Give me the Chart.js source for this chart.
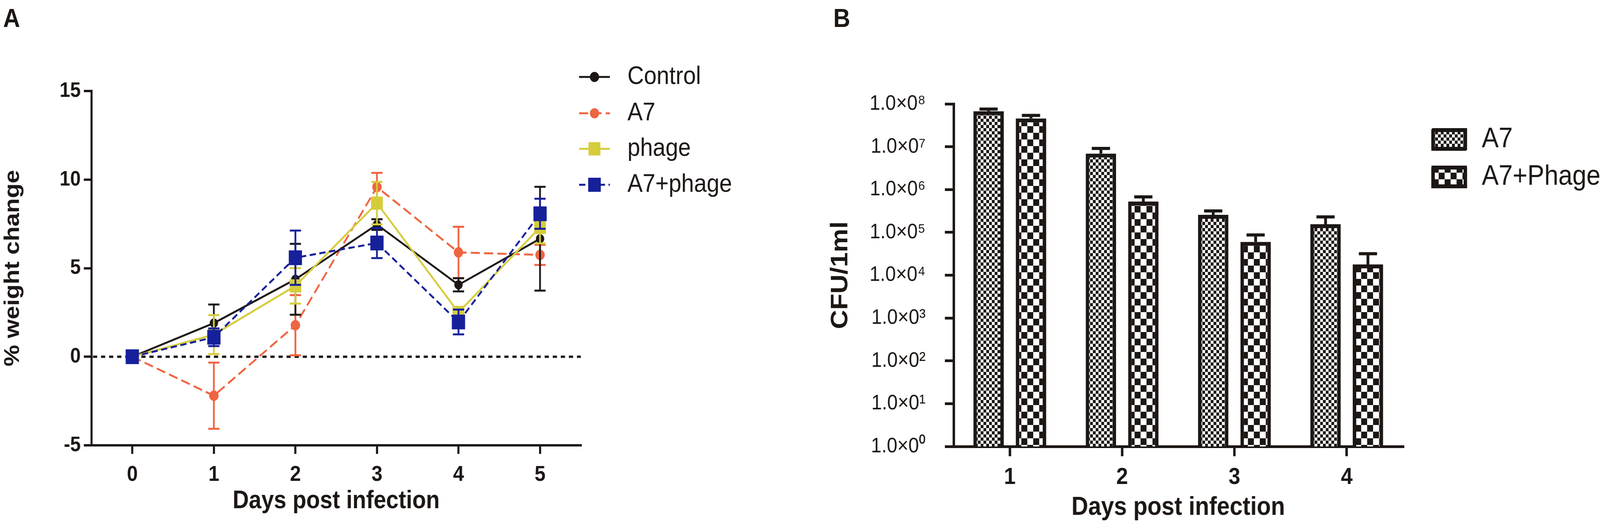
<!DOCTYPE html>
<html>
<head>
<meta charset="utf-8">
<script src="https://cdn.jsdelivr.net/npm/chart.js@4.4.1/dist/chart.umd.min.js"></script>
<style>
  html, body { margin: 0; padding: 0; background: #fff; overflow: hidden; }
  #page { position: relative; width: 4562px; height: 1344px; overflow: hidden; background: #fff; transform-origin: 0 0; }
  canvas { position: absolute; top: 0; }
  #chartA { left: 0; }
  #chartB { left: 2300px; }
  .panel { position: absolute; top: 12px; font: bold 67px 'Liberation Sans', Arial, sans-serif; line-height: 67px; color: #1c1714; }
</style>
</head>
<body>
<div id="page">
  <canvas id="chartA" width="2300" height="1344" style="width:2300px;height:1344px"></canvas>
  <canvas id="chartB" width="2262" height="1344" style="width:2262px;height:1344px"></canvas>
  <div class="panel" style="left:9px">A</div>
  <div class="panel" style="left:2376px">B</div>
</div>
<script>
// ---- panel A: % weight change (mean, SEM) ----
const days = ['0', '1', '2', '3', '4', '5'];
const controlMean = [0, 1.9, 4.37, 7.46, 4.06, 6.66];
const controlErr = [0, 1.05, 2.0, 0.3, 0.37, 2.93];
const a7Mean = [0, -2.2, 1.78, 9.58, 5.89, 5.75];
const a7Err = [0, 1.87, 1.7, 0.8, 1.45, 0.57];
const phageMean = [0, 1.25, 4.0, 8.67, 2.5, 7.3];
const phageErr = [0, 1.1, 1.0, 1.2, 0.3, 0.9];
const comboMean = [0, 1.1, 5.59, 6.42, 1.96, 8.07];
const comboErr = [0, 0.5, 1.53, 0.85, 0.7, 0.85];

// ---- panel B: CFU/1ml (mean, SEM) ----
const cfuDays = ['1', '2', '3', '4'];
const cfuA7 = [6.76e7, 6.9e6, 2.57e5, 1.55e5];
const cfuA7Sem = [0.83e7, 2.2e6, 0.6e5, 0.75e5];
const cfuCombo = [4.57e7, 5.25e5, 6.0e4, 1.78e4];
const cfuComboSem = [0.8e7, 1.5e5, 2.7e4, 1.4e4];
const cfuTicks = [1, 10, 100, 1e3, 1e4, 1e5, 1e6, 1e7, 1e8];
const sup = ['⁰', '¹', '²', '³', '⁴', '⁵', '⁶', '⁷', '⁸'];

const FONT = "'Liberation Sans', Arial, sans-serif";
const INK = '#1c1714';
const BLACK = '#1c1714';
const ORANGE = '#ef6441';
const YELLOW = '#d5cc3c';
const BLUE = '#16209a';

// the window is not always 4562 wide: stretch the 4562x1344 layout onto it
const sx = window.innerWidth / 4562;
const sy = window.innerHeight / 1344;
document.getElementById('page').style.transform = 'scale(' + sx + ',' + sy + ')';

Chart.defaults.font.family = FONT;
Chart.defaults.color = INK;

// error bars, drawn through the y scale of each dataset
const errorBars = {
  id: 'errorBars',
  beforeDatasetDraw(chart, args) {
    const ds = chart.data.datasets[args.index];
    if (!ds.errors) return;
    const ctx = chart.ctx;
    const yScale = chart.scales[args.meta.yAxisID];
    ctx.save();
    ctx.strokeStyle = ds.errorColor || ds.borderColor;
    ctx.lineWidth = ds.errorWidth || 5;
    args.meta.data.forEach((el, i) => {
      const err = ds.errors[i];
      if (!err) return;
      const v = ds.data[i];
      const top = yScale.getPixelForValue(v + err);
      const bottom = ds.upperOnly ? el.y : yScale.getPixelForValue(v - err);
      const half = ds.capHalf || 16;
      ctx.beginPath();
      ctx.moveTo(el.x, top);
      ctx.lineTo(el.x, bottom);
      ctx.moveTo(el.x - half, top);
      ctx.lineTo(el.x + half, top);
      if (!ds.upperOnly) {
        ctx.moveTo(el.x - half, bottom);
        ctx.lineTo(el.x + half, bottom);
      }
      ctx.stroke();
    });
    ctx.restore();
  }
};

const zeroLine = {
  id: 'zeroLine',
  beforeDatasetsDraw(chart) {
    const { ctx, chartArea } = chart;
    const y = chart.scales.y.getPixelForValue(0);
    ctx.save();
    ctx.setLineDash([12, 11]);
    ctx.lineWidth = 6;
    ctx.strokeStyle = INK;
    ctx.beginPath();
    ctx.moveTo(chartArea.left + 4, y);
    ctx.lineTo(chartArea.right, y);
    ctx.stroke();
    ctx.restore();
  }
};

const lineLegend = {
  id: 'lineLegend',
  afterDraw(chart) {
    const ctx = chart.ctx;
    const rows = [197, 290, 381, 473];
    chart.data.datasets.forEach((ds, i) => {
      const y = rows[i];
      ctx.save();
      ctx.strokeStyle = ds.borderColor;
      ctx.lineWidth = ds.borderWidth;
      ctx.setLineDash(ds.borderDash || []);
      ctx.beginPath();
      ctx.moveTo(1651, y);
      ctx.lineTo(1739, y);
      ctx.stroke();
      ctx.setLineDash([]);
      ctx.fillStyle = ds.borderColor;
      ctx.beginPath();
      const s = ds.legendMarker;
      if (ds.pointStyle === 'rect') ctx.rect(1695 - s / 2, y - s / 2, s, s);
      else ctx.arc(1695, y, s / 2, 0, Math.PI * 2);
      ctx.fill();
      ctx.fillStyle = INK;
      ctx.font = '65px ' + FONT;
      ctx.textBaseline = 'middle';
      ctx.fillText(ds.label, 1789, y);
      ctx.restore();
    });
  }
};

const barLegend = {
  id: 'barLegend',
  afterDraw(chart) {
    const ctx = chart.ctx;
    const tops = [328, 424];
    chart.data.datasets.forEach((ds, i) => {
      const y = tops[i];
      ctx.save();
      ctx.fillStyle = ds.backgroundColor;
      ctx.fillRect(1781, y, 102, 58);
      ctx.lineWidth = 10;
      ctx.lineJoin = 'round';
      ctx.strokeStyle = INK;
      ctx.strokeRect(1786, y + 5, 92, 48);
      ctx.fillStyle = INK;
      ctx.font = '72px ' + FONT;
      ctx.textBaseline = 'middle';
      ctx.fillText(ds.label, 1925, y + 29);
      ctx.restore();
    });
  }
};

function checker(cell) {
  const c = document.createElement('canvas');
  c.width = c.height = cell * 2;
  const g = c.getContext('2d');
  g.fillStyle = '#fff';
  g.fillRect(0, 0, cell * 2, cell * 2);
  g.fillStyle = INK;
  g.fillRect(0, 0, cell, cell);
  g.fillRect(cell, cell, cell, cell);
  return document.getElementById('chartB').getContext('2d').createPattern(c, 'repeat');
}

function lineSet(label, data, errors, color, style, radius, dash, order, legendMarker) {
  return {
    label, data, errors,
    borderColor: color,
    backgroundColor: color,
    borderWidth: 5,
    borderDash: dash,
    pointStyle: style,
    pointRadius: radius,
    pointBorderWidth: 1,
    pointBackgroundColor: color,
    pointBorderColor: color,
    errorWidth: 5,
    capHalf: 16,
    tension: 0,
    order,
    legendMarker
  };
}

const axisGrid = (len, w) => ({
  display: true, drawOnChartArea: false, drawTicks: true,
  tickLength: len, tickWidth: w, tickColor: INK, color: INK, lineWidth: w
});

new Chart(document.getElementById('chartA'), {
  type: 'line',
  data: {
    labels: days,
    datasets: [
      lineSet('Control', controlMean, controlErr, BLACK, 'circle', 11.5, [], 3, 26),
      lineSet('A7', a7Mean, a7Err, ORANGE, 'circle', 13, [26, 12], 4, 26),
      lineSet('phage', phageMean, phageErr, YELLOW, 'rect', 23, [], 2, 34),
      lineSet('A7+phage', comboMean, comboErr, BLUE, 'rect', 26, [18, 10], 1, 36)
    ]
  },
  options: {
    responsive: false,
    animation: false,
    devicePixelRatio: 1,
    layout: { padding: { left: 0, top: 233, right: 644, bottom: 0 } },
    plugins: { legend: { display: false }, tooltip: { enabled: false } },
    scales: {
      x: {
        type: 'category',
        offset: true,
        afterFit: (s) => { s.height = 204; },
        ticks: { font: { size: 56, weight: 'bold' }, padding: 20, color: INK },
        grid: axisGrid(22, 6),
        border: { display: true, width: 6, color: INK },
        title: { display: true, text: 'Days post infection', color: INK,
          font: { size: 64, weight: 'bold' }, padding: { top: 0, bottom: 22 } }
      },
      y: {
        min: -5, max: 15,
        afterFit: (s) => { s.width = 261; },
        ticks: { stepSize: 5, font: { size: 54, weight: 'bold' }, padding: 9, color: INK },
        grid: axisGrid(22, 6),
        border: { display: true, width: 6, color: INK },
        title: { display: true, text: '% weight change', color: INK,
          font: { size: 62, weight: 'bold' }, padding: { top: 0, bottom: 0 } }
      }
    }
  },
  plugins: [zeroLine, errorBars, lineLegend]
});

new Chart(document.getElementById('chartB'), {
  type: 'bar',
  data: {
    labels: cfuDays,
    datasets: [
      { label: 'A7', data: cfuA7, errors: cfuA7Sem, upperOnly: true,
        backgroundColor: checker(8), borderColor: INK, borderWidth: 10,
        errorColor: INK, errorWidth: 8, capHalf: 26 },
      { label: 'A7+Phage', data: cfuCombo, errors: cfuComboSem, upperOnly: true,
        backgroundColor: checker(17), borderColor: INK, borderWidth: 10,
        errorColor: INK, errorWidth: 8, capHalf: 26 }
    ]
  },
  options: {
    responsive: false,
    animation: false,
    devicePixelRatio: 1,
    categoryPercentage: 0.755,
    barPercentage: 0.717,
    layout: { padding: { left: 0, top: 266, right: 562, bottom: 0 } },
    plugins: { legend: { display: false }, tooltip: { enabled: false } },
    scales: {
      x: {
        afterFit: (s) => { s.height = 201; },
        ticks: { font: { size: 60, weight: 'bold' }, padding: 18, color: INK },
        grid: Object.assign(axisGrid(25, 7), { offset: false }),
        border: { display: true, width: 7, color: INK },
        title: { display: true, text: 'Days post infection', color: INK,
          font: { size: 66, weight: 'bold' }, padding: { top: 0, bottom: 5 } }
      },
      y: {
        type: 'logarithmic',
        min: 1, max: 1e8,
        afterBuildTicks: (s) => { s.ticks = cfuTicks.map((v) => ({ value: v })); },
        afterFit: (s) => { s.width = 419; },
        ticks: {
          autoSkip: false,
          font: { size: 54 },
          padding: 55,
          color: INK,
          callback: (v) => '1.0×0' + sup[Math.round(Math.log10(v))]
        },
        grid: axisGrid(25, 7),
        border: { display: true, width: 7, color: INK },
        title: { display: true, text: 'CFU/1ml', color: INK,
          font: { size: 68, weight: 'bold' }, padding: { top: 56, bottom: 0 } }
      }
    }
  },
  plugins: [errorBars, barLegend]
});
</script>
</body>
</html>
